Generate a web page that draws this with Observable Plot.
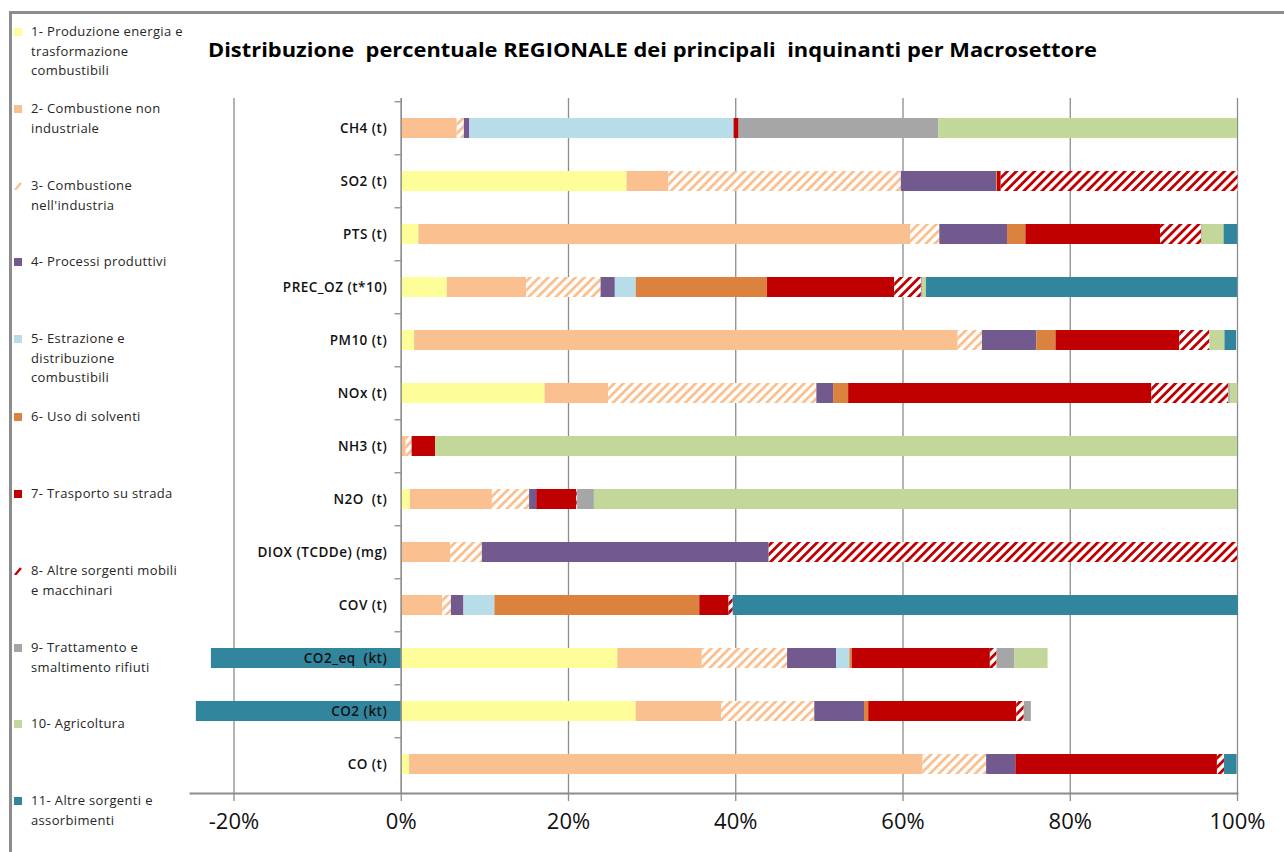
<!DOCTYPE html>
<html><head><meta charset="utf-8">
<script src="https://cdn.jsdelivr.net/npm/d3@7"></script>
<script src="https://cdn.jsdelivr.net/npm/@observablehq/plot@0.6"></script>
<style>
body{margin:0;background:#fff;}
#wrap{position:relative;width:1284px;height:852px;overflow:hidden;font-family:"Open Sans",sans-serif;}
#border{position:absolute;left:9px;top:11px;width:1300px;height:900px;border-left:3px solid #8c8c8c;border-top:3px solid #8c8c8c;}
#title{position:absolute;left:208px;top:37px;font-size:19px;font-weight:700;color:#000;white-space:pre;transform-origin:0 0;}
.leg{position:absolute;left:31px;font-size:13px;letter-spacing:0.35px;line-height:19.5px;color:#262626;white-space:pre;}
.sw{position:absolute;left:-17px;top:6px;width:8px;height:8px;}
#chart{position:absolute;left:0;top:0;}
</style></head>
<body>
<div id="wrap">
  <div id="border"></div>
  <div id="chart"></div>
  <div id="title"></div>
  <div id="legend"></div>
</div>
<script>
// ---- data ----
const categories = ["CH4 (t)", "SO2 (t)", "PTS (t)", "PREC_OZ (t*10)", "PM10 (t)", "NOx (t)", "NH3 (t)", "N2O  (t)", "DIOX (TCDDe) (mg)", "COV (t)", "CO2_eq  (kt)", "CO2 (kt)", "CO (t)"];
const sectors = [
  "1- Produzione energia e\ntrasformazione\ncombustibili",
  "2- Combustione non\nindustriale",
  "3- Combustione\nnell'industria",
  "4- Processi produttivi",
  "5- Estrazione e\ndistribuzione\ncombustibili",
  "6- Uso di solventi",
  "7- Trasporto su strada",
  "8- Altre sorgenti mobili\ne macchinari",
  "9- Trattamento e\nsmaltimento rifiuti",
  "10- Agricoltura",
  "11- Altre sorgenti e\nassorbimenti"
];
// percent shares, one array per macrosector, in category order
const s1  = [0, 27.0, 2.1, 5.5, 1.6, 17.2, 0, 1.1, 0, 0, 25.9, 28.1, 1.0];
const s2  = [6.7, 5.0, 58.8, 9.5, 65.0, 7.6, 0.6, 9.8, 5.9, 4.95, 10.1, 10.2, 61.4];
const s3  = [0.85, 27.8, 3.5, 8.9, 2.9, 24.9, 0.7, 4.45, 3.8, 1.05, 10.2, 11.15, 7.6];
const s4  = [0.65, 11.4, 8.1, 1.7, 6.5, 2.0, 0, 0.85, 34.3, 1.5, 5.85, 5.95, 3.5];
const s5  = [31.6, 0, 0, 2.5, 0, 0, 0, 0, 0, 3.7, 1.6, 0, 0];
const s6  = [0, 0.1, 2.2, 15.7, 2.3, 1.8, 0, 0, 0, 24.5, 0.3, 0.5, 0];
const s7  = [0.6, 0.45, 16.1, 15.2, 14.8, 36.25, 2.8, 4.8, 0, 3.5, 16.5, 17.7, 24.1];
const s8  = [0, 28.3, 4.9, 3.2, 3.6, 9.2, 0, 0.1, 56.0, 0.5, 0.8, 0.9, 0.85];
const s9  = [23.9, 0, 0.1, 0.2, 0, 0.2, 0, 2.0, 0, 0, 2.15, 0.85, 0];
const s10 = [35.7, 0, 2.6, 0.4, 1.8, 0.9, 95.9, 76.9, 0, 0, 3.95, 0, 0];
const s11 = [0, 0, 1.6, 37.2, 1.4, 0, 0, 0, 0, 60.4, -22.7, -24.5, 1.5];
const series = [s1, s2, s3, s4, s5, s6, s7, s8, s9, s10, s11];
const xTicks = [-20, 0, 20, 40, 60, 80, 100];
const titleText = "Distribuzione  percentuale REGIONALE dei principali  inquinanti per Macrosettore";

// ---- styles ----
const fills = ["#FDFD99", "#FAC090", "url(#hatchPeach)", "#72598E", "#B7DEE8", "#DB823F", "#C00000", "url(#hatchRed)", "#A6A6A6", "#C4D79B", "#31859C"];
const swatchColors = ["#FDFD99", "#FAC090", "#FAC090", "#72598E", "#B7DEE8", "#DB823F", "#C00000", "#C00000", "#A6A6A6", "#C4D79B", "#31859C"];

const rows = [];
categories.forEach((c, i) => {
  series.forEach((s, j) => {
    if (s[i] !== 0) rows.push({category: c, sector: sectors[j], value: s[i]});
  });
});

const H = 852, mTop = 98, mBottom = 59;
const step = (H - mTop - mBottom) / categories.length;

const chart = Plot.plot({
  width: 1284, height: H,
  marginLeft: 190, marginRight: 47, marginTop: mTop, marginBottom: mBottom,
  style: {fontFamily: "Open Sans", background: "transparent", overflow: "visible"},
  x: {domain: [-25.2, 100], label: null},
  y: {domain: categories, paddingInner: 0.626, paddingOuter: 0.313, axis: null},
  color: {type: "ordinal", domain: sectors, range: fills},
  marks: [
    Plot.ruleX(xTicks, {stroke: "#8c8c8c", strokeWidth: 1.3}),
    Plot.barX(rows, Plot.stackX({x: "value", y: "category", fill: "sector", order: null, inset: 0})),
    Plot.ruleX([0], {stroke: "#8c8c8c", strokeWidth: 1.3}),
    Plot.frame({anchor: "bottom", stroke: "#8c8c8c", strokeWidth: 2}),
    Plot.ruleY(categories, {y: d => d, x1: -0.75, x2: 0, dy: -step / 2, stroke: "#8c8c8c", strokeWidth: 1.3}),
    Plot.text(categories, {x: 0, y: d => d, text: d => d, textAnchor: "end", dx: -14, fontSize: 13.5, fontWeight: 600, fill: "#111", letterSpacing: 0.5}),
    Plot.axisX({ticks: xTicks, tickFormat: d => d + "%", tickSize: 8, tickPadding: 12, fontSize: 22, stroke: "#8c8c8c", strokeWidth: 1.3, fill: "#111", label: null})
  ]
});

// hatch patterns
const defs = d3.select(chart).insert("defs", ":first-child");
function hatch(id, color) {
  const p = defs.append("pattern").attr("id", id).attr("patternUnits", "userSpaceOnUse")
    .attr("width", 6.4).attr("height", 6.4).attr("patternTransform", "rotate(45)");
  p.append("rect").attr("width", 6.4).attr("height", 6.4).attr("fill", "#fff");
  p.append("rect").attr("width", 2.8).attr("height", 6.4).attr("fill", color);
}
hatch("hatchPeach", "#FAC090");
hatch("hatchRed", "#C00000");
// widen category labels slightly like the reference
d3.select(chart).selectAll("text").filter(function() { return categories.includes(this.textContent); })
  .attr("letter-spacing", 0.5);
document.getElementById("chart").appendChild(chart);

const title = document.getElementById("title");
title.textContent = titleText;
const tw = title.getBoundingClientRect().width;
title.style.transform = "scaleX(" + (889 / tw) + ")";

// legend
const legTops = [22, 99, 176, 252, 329, 407, 484, 561, 638, 714, 791];
const legend = document.getElementById("legend");
sectors.forEach((s, j) => {
  const d = document.createElement("div");
  d.className = "leg";
  d.style.top = legTops[j] + "px";
  d.textContent = s;
  const sw = document.createElementNS("http://www.w3.org/2000/svg", "svg");
  sw.setAttribute("class", "sw");
  sw.setAttribute("width", 8); sw.setAttribute("height", 8);
  if (j === 2 || j === 7) {
    const l = document.createElementNS("http://www.w3.org/2000/svg", "line");
    l.setAttribute("x1", 1); l.setAttribute("y1", 8); l.setAttribute("x2", 7); l.setAttribute("y2", 1);
    l.setAttribute("stroke", swatchColors[j]); l.setAttribute("stroke-width", 2.4);
    sw.appendChild(l);
  } else {
    const r = document.createElementNS("http://www.w3.org/2000/svg", "rect");
    r.setAttribute("width", 8); r.setAttribute("height", 8); r.setAttribute("fill", swatchColors[j]);
    sw.appendChild(r);
  }
  d.appendChild(sw);
  legend.appendChild(d);
});
</script>
</body></html>
